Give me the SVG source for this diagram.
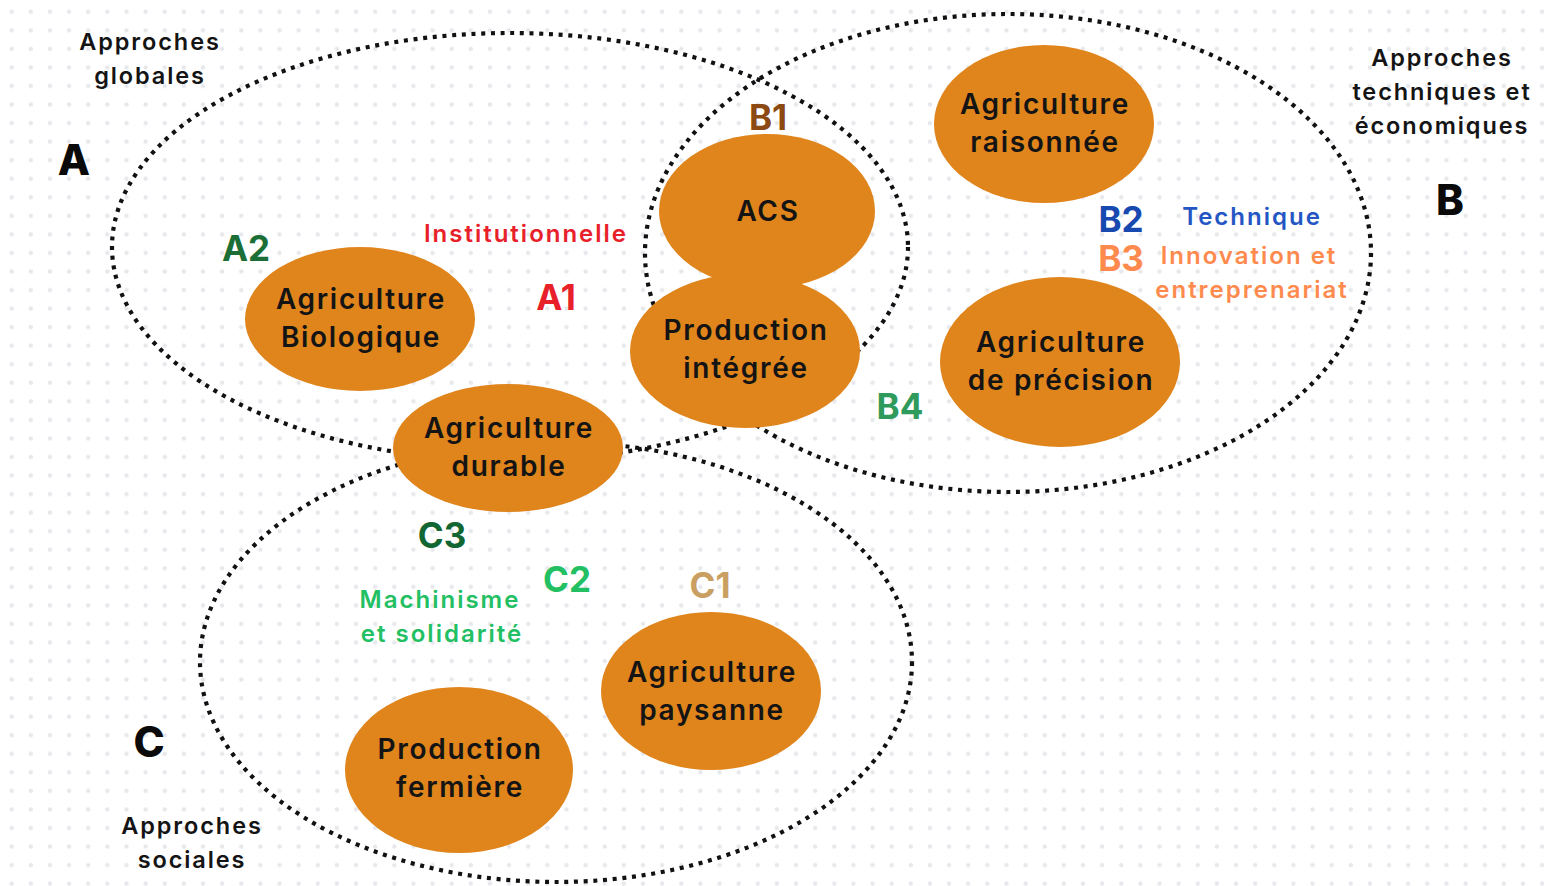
<svg xmlns="http://www.w3.org/2000/svg" width="1547" height="886" viewBox="0 0 1547 886">
<defs>
<pattern id="dots" x="2.2" y="2.5" width="19.13" height="18.55" patternUnits="userSpaceOnUse">
<circle cx="9.5" cy="9.2" r="2.2" fill="#e6e8ec"/>
</pattern>
<style>
.zone{fill:none;stroke:#111;stroke-width:4.2;stroke-dasharray:4 5.7}
.node ellipse{fill:#e0841c}
.nt{font-family:Inter,"Open Sans",sans-serif;font-weight:600;font-size:28px;letter-spacing:1.7px;fill:#141414;text-anchor:middle}
.lab{font-family:Inter,"Open Sans",sans-serif;font-weight:600;font-size:23.5px;letter-spacing:1.9px;fill:#141414;text-anchor:middle}
.big{font-family:Inter,"Open Sans",sans-serif;font-weight:800;font-size:42px;fill:#0a0a0a;text-anchor:middle}
.code{font-family:Inter,"Open Sans",sans-serif;font-weight:700;font-size:35px;text-anchor:middle}
.sub{font-family:Inter,"Open Sans",sans-serif;font-weight:600;font-size:24px;letter-spacing:2px;text-anchor:middle}
</style>
</defs>
<rect width="1547" height="886" fill="#ffffff"/>
<rect width="1547" height="886" fill="url(#dots)"/>

<g id="connectors">
<ellipse class="zone" cx="510" cy="247" rx="398" ry="214"/>
<ellipse class="zone" cx="1008" cy="253" rx="363" ry="239"/>
<ellipse class="zone" cx="556" cy="662" rx="356" ry="220"/>
</g>

<g id="zone-labels">
<text class="lab" x="150" y="50">Approches</text>
<text class="lab" x="150" y="84">globales</text>
<text class="big" x="74" y="175">A</text>
<text class="lab" x="1442" y="66">Approches</text>
<text class="lab" x="1442" y="100">techniques et</text>
<text class="lab" x="1442" y="134">économiques</text>
<text class="big" x="1450" y="215">B</text>
<text class="big" x="149" y="757">C</text>
<text class="lab" x="192" y="834">Approches</text>
<text class="lab" x="192" y="868">sociales</text>
</g>

<g id="codes">
<text class="code" x="768" y="130" fill="#8c4a12">B1</text>
<text class="sub" x="526" y="242" fill="#e8202a">Institutionnelle</text>
<text class="code" x="556" y="310" fill="#e8202a">A1</text>
<text class="code" x="246" y="261" fill="#1b6e36">A2</text>
<text class="code" x="1121" y="232" fill="#1849b0">B2</text>
<text class="sub" x="1252" y="225" fill="#2356c4">Technique</text>
<text class="code" x="1121" y="271" fill="#ff8a4e">B3</text>
<text class="sub" x="1249" y="264" fill="#ff8a4e">Innovation et</text>
<text class="sub" x="1252" y="298" fill="#ff8a4e">entreprenariat</text>
<text class="code" x="900" y="419" fill="#2e9a5c">B4</text>
<text class="code" x="442" y="548" fill="#116632">C3</text>
<text class="code" x="567" y="592" fill="#22c063">C2</text>
<text class="sub" x="440" y="608" fill="#22c063">Machinisme</text>
<text class="sub" x="442" y="642" fill="#22c063">et solidarité</text>
<text class="code" x="710" y="598" fill="#c9a062">C1</text>
</g>

<g id="n-acs" class="node">
<ellipse cx="767" cy="211" rx="108" ry="77"/>
<text class="nt" x="768" y="221">ACS</text>
</g>
<g id="n-prod-integree" class="node">
<ellipse cx="745" cy="351" rx="115" ry="77"/>
<text class="nt" x="746" y="340">Production</text>
<text class="nt" x="746" y="378">intégrée</text>
</g>
<g id="n-raisonnee" class="node">
<ellipse cx="1044" cy="124" rx="110" ry="79"/>
<text class="nt" x="1045" y="114">Agriculture</text>
<text class="nt" x="1045" y="152">raisonnée</text>
</g>
<g id="n-precision" class="node">
<ellipse cx="1060" cy="362" rx="120" ry="85"/>
<text class="nt" x="1061" y="352">Agriculture</text>
<text class="nt" x="1061" y="390">de précision</text>
</g>
<g id="n-bio" class="node">
<ellipse cx="360" cy="319" rx="115" ry="72"/>
<text class="nt" x="361" y="309">Agriculture</text>
<text class="nt" x="361" y="347">Biologique</text>
</g>
<g id="n-durable" class="node">
<ellipse cx="508" cy="448" rx="115" ry="64"/>
<text class="nt" x="509" y="438">Agriculture</text>
<text class="nt" x="509" y="476">durable</text>
</g>
<g id="n-paysanne" class="node">
<ellipse cx="711" cy="691" rx="110" ry="79"/>
<text class="nt" x="712" y="682">Agriculture</text>
<text class="nt" x="712" y="720">paysanne</text>
</g>
<g id="n-fermiere" class="node">
<ellipse cx="459" cy="770" rx="114" ry="83"/>
<text class="nt" x="460" y="759">Production</text>
<text class="nt" x="460" y="797">fermière</text>
</g>
</svg>
